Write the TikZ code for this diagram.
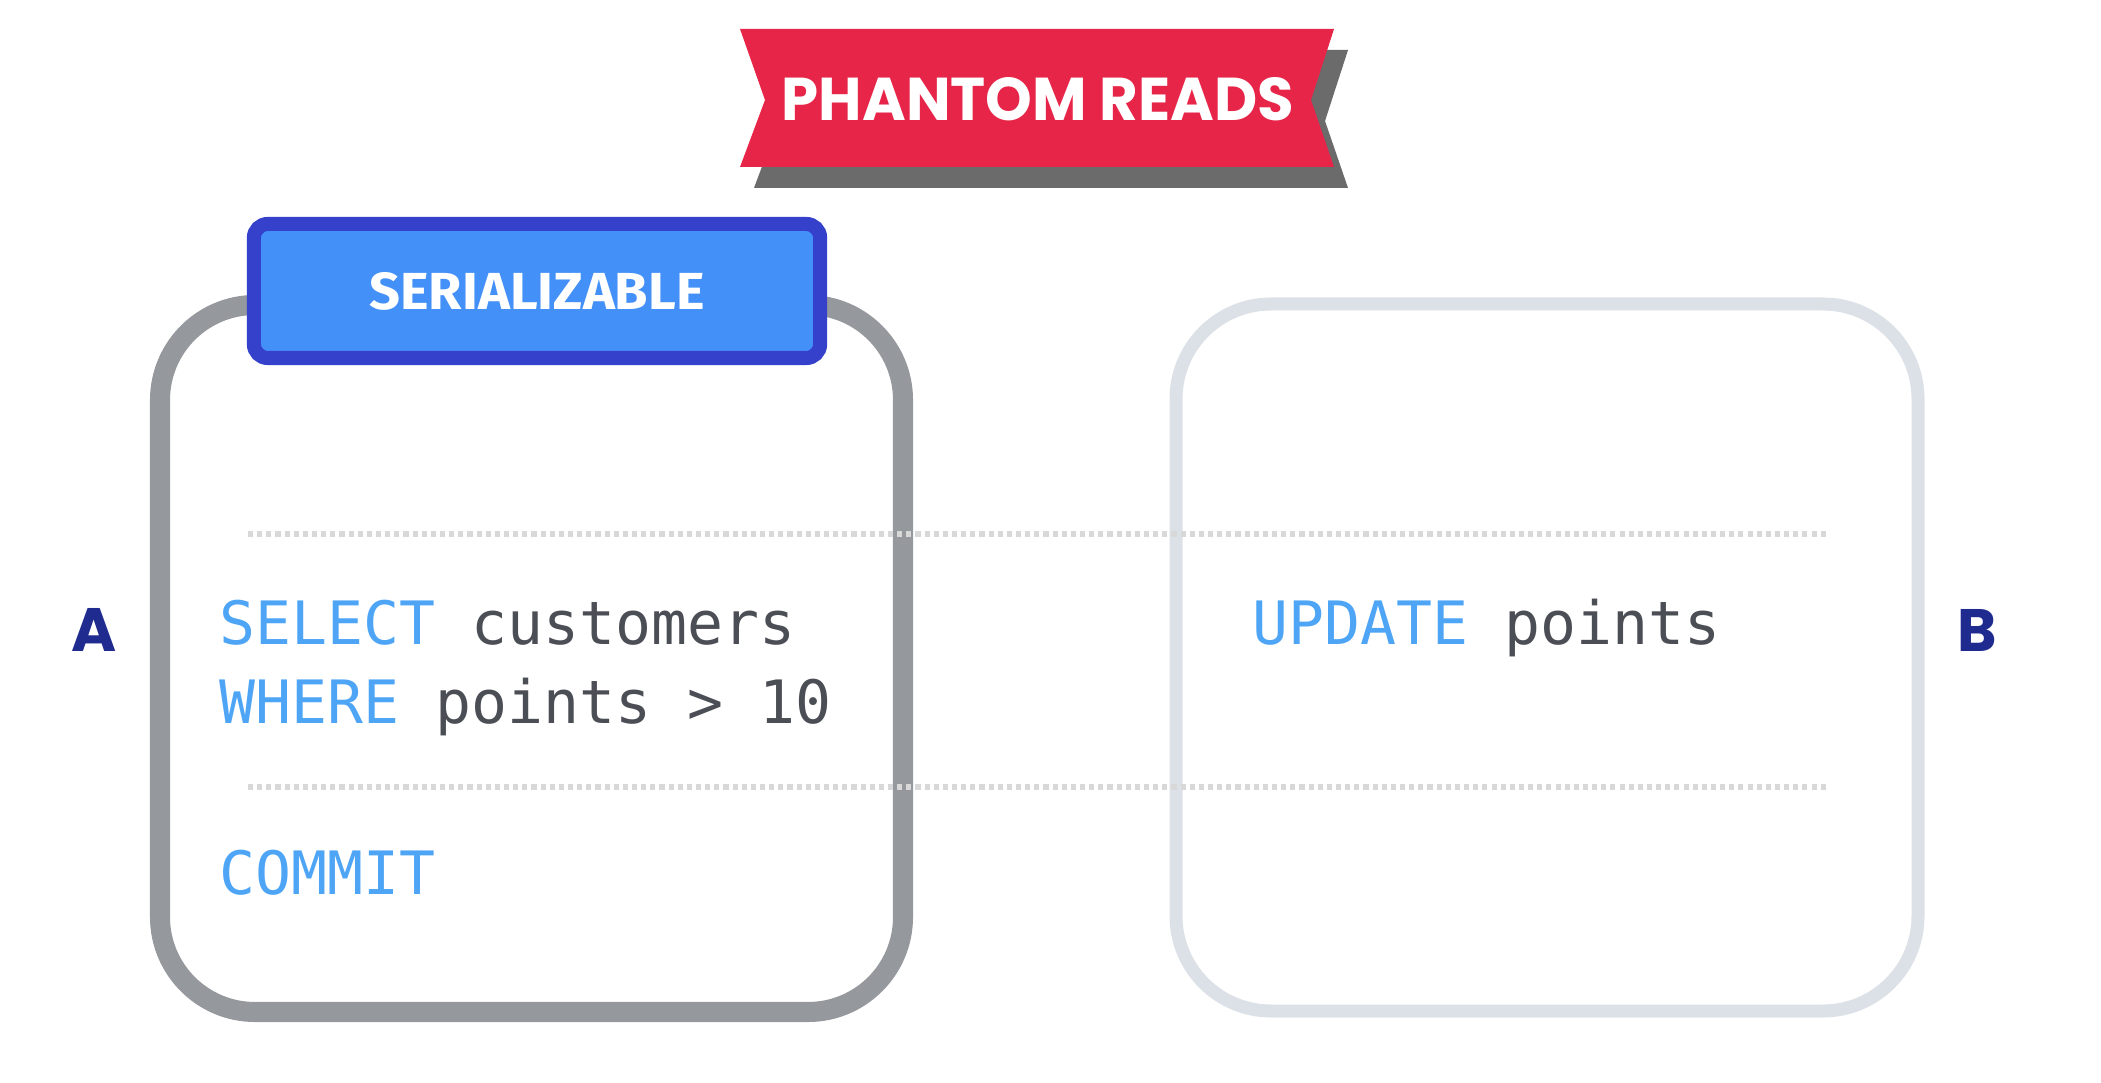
\documentclass[tikz,border=0pt]{standalone}
\usepackage{fontspec}
\usepackage{graphicx}
\setmonofont{DejaVu Sans Mono}
\newfontfamily\banfont{Poppins}
\newfontfamily\labfont{Fira Sans}
\definecolor{banred}{HTML}{E72548}
\definecolor{banshadow}{HTML}{6B6B6B}
\definecolor{serborder}{HTML}{3541CB}
\definecolor{serfill}{HTML}{4390F8}
\definecolor{boxA}{HTML}{95989C}
\definecolor{boxB}{HTML}{DCE1E7}
\definecolor{dotc}{HTML}{D8D8D8}
\definecolor{kw}{HTML}{4EA5F6}
\definecolor{codegray}{HTML}{4B4E55}
\definecolor{navy}{HTML}{1F2B8F}
\tikzset{
  codeline/.style={inner sep=0pt, anchor=base west, text=codegray, font=\ttfamily\fontsize{17pt}{20pt}\selectfont},
  sidelabel/.style={inner sep=0pt, text=navy, font=\banfont\bfseries},
  txbox/.style={rounded corners=0.95cm, fill=white},
  sepline/.style={draw=dotc, line width=1.45pt, dash pattern=on 1.45pt off 1.15pt},
}
\begin{document}
\begin{tikzpicture}[x=0.01cm,y=-0.01cm]
\useasboundingbox (0,0) rectangle (2101,1083);
\fill[white] (0,0) rectangle (2101,1083);
% banner
\fill[banshadow, shift={(14,21)}] (740,29) -- (1334,29) -- (1311,100) -- (1334,167) -- (740,167) -- (765,100) -- cycle;
\fill[banred] (740,29) -- (1334,29) -- (1311,100) -- (1334,167) -- (740,167) -- (765,100) -- cycle;
\node[inner sep=0pt, text=white] (title) at (1038,99) {\resizebox{5.12cm}{0.43cm}{\banfont\bfseries PHANTOM READS}};
% boxes
\draw[txbox, draw=boxA, line width=5.7pt] (160,305) rectangle (903,1012);
\draw[txbox, draw=boxB, line width=3.7pt] (1176,304) rectangle (1918,1011);
% serializable tag
\node[draw=serborder, fill=serfill, line width=4pt, rounded corners=0.14cm, minimum width=5.66cm, minimum height=1.34cm, inner sep=0pt] (ser) at (537,291) {};
\node[inner sep=0pt, text=white] (sertext) at (ser.center) {\resizebox{3.35cm}{0.37cm}{\labfont\bfseries SERIALIZABLE}};
% separators
\coordinate (l1a) at (248,534);
\coordinate (l1b) at (1826,534);
\coordinate (l2a) at (248,787);
\coordinate (l2b) at (1826,787);
\draw[sepline] (l1a) -- (l1b);
\draw[sepline] (l2a) -- (l2b);
% code
\node[codeline] (select) at (219,645) {\textcolor{kw}{SELECT} customers};
\node[codeline] (where) at (219,723) {\textcolor{kw}{WHERE} points > 10};
\node[codeline] (commit) at (219,894) {\textcolor{kw}{COMMIT}};
\node[codeline] (update) at (1252,645) {\textcolor{kw}{UPDATE} points};
% side labels
\node[sidelabel] (A) at (94,630) {\resizebox{!}{0.43cm}{A}};
\node[sidelabel] (B) at (1977,630) {\resizebox{!}{0.42cm}{B}};
\end{tikzpicture}
\end{document}
